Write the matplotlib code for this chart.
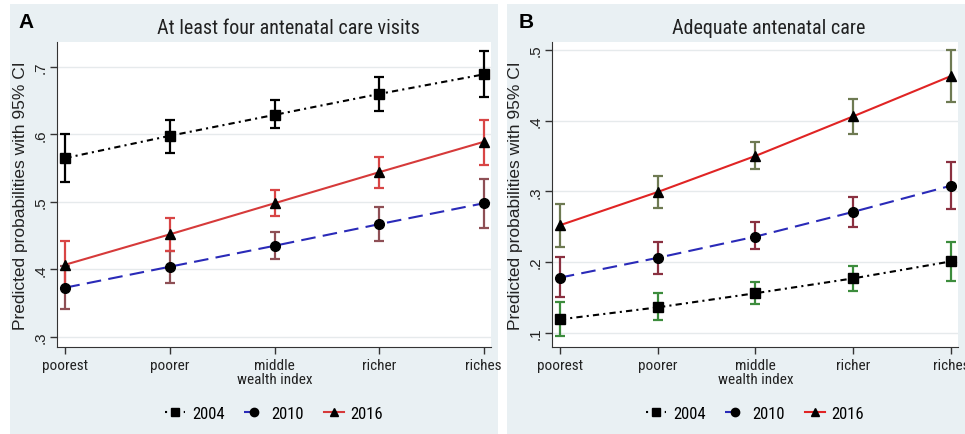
import numpy as np
import matplotlib.pyplot as plt
from matplotlib import font_manager as fm
from matplotlib.patches import Rectangle
from matplotlib.lines import Line2D

names = {f.name for f in fm.fontManager.ttflist}
narrow = next((n for n in ['Roboto Condensed', 'Liberation Sans Narrow', 'Roboto']
               if n in names), 'Liberation Sans')
plt.rcParams['font.family'] = [narrow, 'DejaVu Sans']

# wealth index categories
categories = ['poorest', 'poorer', 'middle\nwealth index', 'richer', 'riches']
years = ['2004', '2010', '2016']

# Panel A: at least four antenatal care visits
a_2004 = [0.565, 0.598, 0.629, 0.660, 0.689]
a_2004_lo = [0.530, 0.573, 0.609, 0.635, 0.655]
a_2004_hi = [0.600, 0.622, 0.651, 0.685, 0.723]
a_2010 = [0.373, 0.404, 0.435, 0.467, 0.498]
a_2010_lo = [0.341, 0.380, 0.415, 0.442, 0.462]
a_2010_hi = [0.405, 0.428, 0.455, 0.492, 0.534]
a_2016 = [0.407, 0.452, 0.498, 0.544, 0.589]
a_2016_lo = [0.373, 0.427, 0.479, 0.520, 0.555]
a_2016_hi = [0.442, 0.476, 0.517, 0.567, 0.622]

# Panel B: adequate antenatal care
b_2004 = [0.119, 0.136, 0.156, 0.177, 0.201]
b_2004_lo = [0.096, 0.118, 0.141, 0.159, 0.173]
b_2004_hi = [0.144, 0.156, 0.172, 0.195, 0.228]
b_2010 = [0.178, 0.206, 0.236, 0.271, 0.308]
b_2010_lo = [0.150, 0.183, 0.218, 0.250, 0.275]
b_2010_hi = [0.207, 0.228, 0.256, 0.292, 0.341]
b_2016 = [0.252, 0.299, 0.350, 0.406, 0.463]
b_2016_lo = [0.222, 0.276, 0.332, 0.381, 0.426]
b_2016_hi = [0.282, 0.322, 0.369, 0.430, 0.500]

bg = '#e9f0f3'
styles = {'2004': dict(color='black', ls=(0, (3, 2, 1, 2)), marker='s', ms=7),
          '2010': dict(color='#2a2ab8', ls=(0, (7, 3.5)), marker='o', ms=7),
          '2016': dict(color='#d63a3a', ls='-', marker='^', ms=7)}

fig = plt.figure(figsize=(9.65, 4.35), dpi=100)
fig.patch.set_facecolor('white')

# panel backgrounds
fig.patches.append(Rectangle((10/965, 0), 488/965, 1-5/435, transform=fig.transFigure,
                             facecolor=bg, edgecolor='none', zorder=-5))
fig.patches.append(Rectangle((507/965, 0), 458/965, 1-5/435, transform=fig.transFigure,
                             facecolor=bg, edgecolor='none', zorder=-5))

x = np.arange(1, 6)


def draw_panel(ax, data, ci_colors, ylim, yticks, ylabels, line_red):
    for yr, (vals, lo, hi) in zip(years, data):
        st = dict(styles[yr])
        if yr == '2016':
            st['color'] = line_red
        vals = np.array(vals)
        err = [vals - np.array(lo), np.array(hi) - vals]
        ax.errorbar(x, vals, yerr=err, fmt='none', ecolor=ci_colors[yr],
                    elinewidth=1.6, capsize=3.5, capthick=1.6, zorder=3)
        ax.plot(x, vals, color=st['color'], ls=st['ls'], lw=1.5, zorder=4)
        ax.plot(x, vals, ls='none', marker=st['marker'], ms=st['ms'],
                color='black', zorder=5)
    ax.set_xlim(0.92, 5.07)
    ax.set_ylim(*ylim)
    ax.set_yticks(yticks)
    ax.set_yticklabels(ylabels, rotation=90, va='center',
                       fontsize=11, family=['Liberation Sans', 'DejaVu Sans'])
    ax.set_xticks(x)
    ax.set_xticklabels(categories, fontsize=11, linespacing=1.0)
    ax.grid(axis='y', color='#e6eaec', lw=1)
    ax.set_axisbelow(True)
    for s in ['top', 'right']:
        ax.spines[s].set_visible(False)
    ax.spines['left'].set_color('#333333')
    ax.spines['bottom'].set_color('#333333')
    ax.tick_params(axis='both', colors='#333333', length=5, width=1, labelcolor='#222222')
    ax.tick_params(axis='x', pad=3)
    ax.tick_params(axis='y', pad=2)
    ax.set_ylabel('Predicted probabilities with 95% CI', fontsize=12.5,
                  family=['Liberation Sans', 'DejaVu Sans'], labelpad=4, color='#222222')

    handles = []
    for yr in years:
        st = styles[yr]
        c = line_red if yr == '2016' else st['color']
        handles.append(Line2D([], [], color=c, ls=st['ls'] if yr != '2004' else (0, (1, 2)),
                              lw=1.5, marker=st['marker'], ms=6, mfc='black', mec='black'))
    ax.legend(handles, years, loc='upper center', bbox_to_anchor=(0.5, -0.145), ncol=3,
              frameon=False, fontsize=12, handlelength=1.2, columnspacing=1.2,
              handletextpad=0.4)


axA = fig.add_axes([57/965, 1-348/435, 434/965, 305/435])
draw_panel(axA,
           [(a_2004, a_2004_lo, a_2004_hi), (a_2010, a_2010_lo, a_2010_hi),
            (a_2016, a_2016_lo, a_2016_hi)],
           {'2004': 'black', '2010': '#8e4f55', '2016': '#d84545'},
           (0.285, 0.737), [0.3, 0.4, 0.5, 0.6, 0.7], ['.3', '.4', '.5', '.6', '.7'],
           '#d63a3a')

axB = fig.add_axes([552/965, 1-348/435, 406/965, 305/435])
draw_panel(axB,
           [(b_2004, b_2004_lo, b_2004_hi), (b_2010, b_2010_lo, b_2010_hi),
            (b_2016, b_2016_lo, b_2016_hi)],
           {'2004': '#3c8c3c', '2010': '#8a3040', '2016': '#6e7a52'},
           (0.080, 0.511), [0.1, 0.2, 0.3, 0.4, 0.5], ['.1', '.2', '.3', '.4', '.5'],
           '#e02424')

fig.text(288/965, 1-28/435, 'At least four antenatal care visits', ha='center', va='center',
         fontsize=14.5, color='#222222')
fig.text(769/965, 1-28/435, 'Adequate antenatal care', ha='center', va='center',
         fontsize=14.5, color='#222222')
fig.text(18/965, 1-22/435, 'A', ha='left', va='center', fontsize=15, fontweight='bold',
         family=['Liberation Sans', 'DejaVu Sans'])
fig.text(519/965, 1-22/435, 'B', ha='left', va='center', fontsize=15, fontweight='bold',
         family=['Liberation Sans', 'DejaVu Sans'])

fig.savefig('out.png', dpi=100, facecolor=fig.get_facecolor())
